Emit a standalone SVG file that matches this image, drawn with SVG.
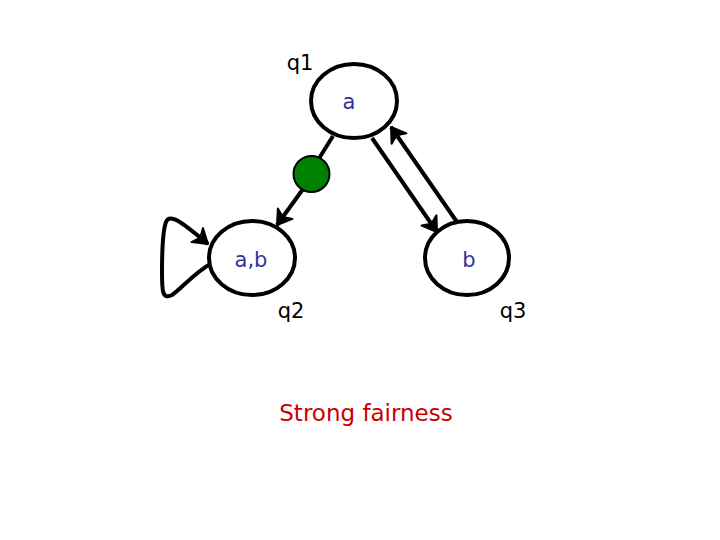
<svg xmlns="http://www.w3.org/2000/svg" width="720" height="540" viewBox="0 0 720 540">
<style>
.st{fill:#fff;stroke:#000;stroke-width:4}
.ed{fill:none;stroke:#000;stroke-width:4;stroke-linejoin:round}
.lb{font-family:"Comic Sans MS","DejaVu Sans",sans-serif;font-size:21px;fill:#333399;text-anchor:middle}
.nm{font-family:"Comic Sans MS","DejaVu Sans",sans-serif;font-size:21px;fill:#000;text-anchor:middle}
</style>
<defs>
<marker id="ah" markerUnits="userSpaceOnUse" markerWidth="24" markerHeight="24" refX="19" refY="12" orient="auto">
<path d="M5,3 L19,12 L5,21 L9,12 Z" fill="#000" stroke="#000" stroke-width="2" stroke-linejoin="round"/>
</marker>
</defs>
<rect width="720" height="540" fill="#fff"/>
<g id="edges">
<line class="ed" x1="333" y1="136" x2="318" y2="160"/>
<line class="ed" x1="303" y1="189" x2="277" y2="225" marker-end="url(#ah)"/>
<line class="ed" x1="372" y1="138" x2="437" y2="232" marker-end="url(#ah)"/>
<line class="ed" x1="457" y1="222" x2="391" y2="127" marker-end="url(#ah)"/>
<path class="ed" d="M212,263 C195,272 180,290 172,295 C162,300 162,290 162,272 C162,250 163,230 166,222 C170,212 185,225 208,244" marker-end="url(#ah)"/>
</g>
<g id="q1">
<ellipse class="st" cx="354" cy="101" rx="43" ry="37"/>
<text class="lb" x="349" y="109">a</text>
<text class="nm" x="300" y="70">q1</text>
</g>
<g id="q2">
<ellipse class="st" cx="252" cy="258" rx="43" ry="37"/>
<text class="lb" x="251" y="267">a,b</text>
<text class="nm" x="291" y="318">q2</text>
</g>
<g id="q3">
<ellipse class="st" cx="467" cy="258" rx="42" ry="37"/>
<text class="lb" x="469" y="267">b</text>
<text class="nm" x="513" y="318">q3</text>
</g>
<g id="dot">
<circle cx="311.5" cy="174" r="18" fill="#008000" stroke="#000" stroke-width="2"/>
</g>
<text x="366" y="421" font-family="'Comic Sans MS','DejaVu Sans',sans-serif" font-size="23" fill="#cc0000" text-anchor="middle">Strong fairness</text>
</svg>
